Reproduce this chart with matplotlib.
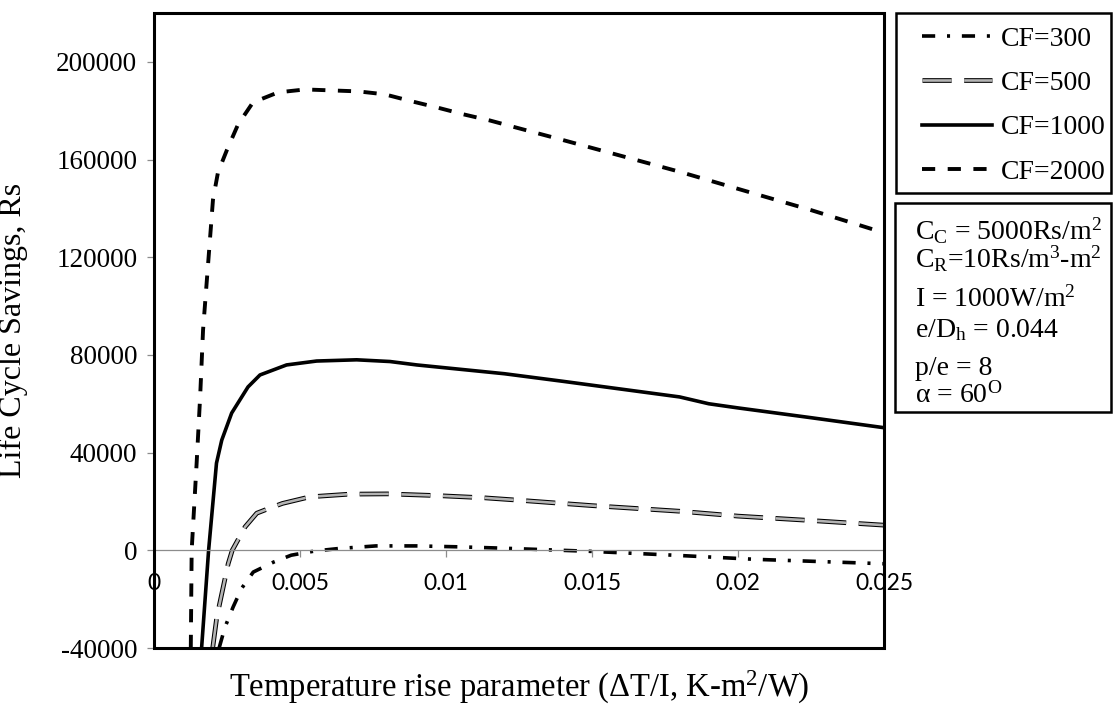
import matplotlib
matplotlib.use("Agg")
import matplotlib.pyplot as plt
import matplotlib.patheffects as pe
from matplotlib.patches import Rectangle

plt.rcParams['font.family'] = ['Liberation Serif', 'DejaVu Serif']
plt.rcParams['mathtext.fontset'] = 'custom'
plt.rcParams['mathtext.rm'] = 'Liberation Serif'
plt.rcParams['mathtext.it'] = 'Liberation Serif:italic'
plt.rcParams['lines.scale_dashes'] = False

# ---------------- data ----------------
x300 = [0.00223, 0.00243, 0.00271, 0.0030, 0.0034, 0.0041, 0.0047, 0.0055, 0.0063,
        0.0076, 0.0090, 0.0105, 0.0116, 0.0121, 0.0149, 0.0178, 0.0206, 0.025]
y300 = [-40000, -31500, -23200, -15600, -8900, -4800, -2000, -300, 700,
        1800, 1800, 1400, 1000, 800, -400, -2000, -3700, -5500]

x500 = [0.00201, 0.00215, 0.00254, 0.00268, 0.00312, 0.00352, 0.00397, 0.0044, 0.00534,
        0.0067, 0.0080, 0.0097, 0.0113, 0.0125, 0.015, 0.018, 0.020, 0.0225, 0.025]
y500 = [-40000, -27400, -5500, 0, 9600, 15200, 17300, 19200, 21900,
        23000, 23100, 22400, 21500, 20500, 18300, 16000, 14000, 12200, 10300]

x1000 = [0.00163, 0.00187, 0.00214, 0.00232, 0.00266, 0.00322, 0.00363, 0.00454, 0.00557,
         0.00694, 0.00808, 0.009, 0.010, 0.012, 0.014, 0.016, 0.018, 0.019, 0.020, 0.0225, 0.025]
y1000 = [-40000, 0, 35700, 45100, 56200, 66900, 71800, 75900, 77500,
         78000, 77300, 75900, 74700, 72300, 69200, 66000, 62800, 60000, 58300, 54300, 50200]

x2000 = [0.00126, 0.00129, 0.00146, 0.00158, 0.00168, 0.00202, 0.00219, 0.0025, 0.00288,
         0.00339, 0.00425, 0.00517, 0.0061, 0.0070, 0.0079, 0.00884, 0.0097, 0.0106, 0.0115,
         0.0124, 0.0140, 0.0160, 0.0180, 0.0200, 0.0225, 0.025]
y2000 = [-40000, 0, 35700, 62800, 90200, 143600, 154700, 164000, 174400,
         183400, 187500, 188700, 188300, 187900, 186700, 183800, 181300, 178500, 176000,
         173100, 168000, 161500, 155000, 148000, 139300, 130000]

labels = ['CF=300', 'CF=500', 'CF=1000', 'CF=2000']
xticks = [0, 0.005, 0.01, 0.015, 0.02, 0.025]
xticklabels = ['0', '0.005', '0.01', '0.015', '0.02', '0.025']
yticks = [-40000, 0, 40000, 80000, 120000, 160000, 200000]
yticklabels = ['-40000', '0', '40000', '80000', '120000', '160000', '200000']
info_lines = [r'C$_\mathrm{C}$ = 5000Rs/m$^2$',
              r'C$_\mathrm{R}$=10Rs/m$^3$-m$^2$',
              r'I = 1000W/m$^2$',
              r'e/D$_\mathrm{h}$ = 0.044',
              r'p/e = 8',
              r'α = 60$^\mathrm{O}$']

# ---------------- figure ----------------
W, H = 1115, 704
fig = plt.figure(figsize=(W / 100, H / 100), dpi=100)
ax = fig.add_axes([154 / W, 1 - 648 / H, (884 - 154) / W, (648 - 13) / H])

l300, = ax.plot(x300, y300, color='black', lw=2.6, dashes=(9.5, 8.5, 2.2, 8.5),
                solid_capstyle='butt', dash_capstyle='butt')
l500, = ax.plot(x500, y500, color='#b4b4b4', lw=1.9, dashes=(21, 9),
                dash_capstyle='butt',
                path_effects=[pe.Stroke(linewidth=3.4, foreground='black'), pe.Normal()])
l1000, = ax.plot(x1000, y1000, color='black', lw=2.6)
l2000, = ax.plot(x2000, y2000, color='black', lw=2.8, dashes=(9.5, 9),
                 dash_capstyle='butt')

ax.set_xlim(0, 0.025)
ax.set_ylim(-40000, 220000)

# x axis crosses at y = 0 (Excel style)
ax.spines['bottom'].set_position(('data', 0))
ax.spines['bottom'].set_color('#8c8c8c')
ax.spines['bottom'].set_linewidth(0.9)
for s in ['top', 'right', 'left']:
    ax.spines[s].set_color('black')
    ax.spines[s].set_linewidth(1.8)
ax.add_patch(Rectangle((0, 0), 1, 1, transform=ax.transAxes, fill=False,
                       ec='black', lw=2.2, clip_on=False, zorder=5))

ax.set_xticks(xticks)
ax.set_xticklabels(xticklabels, family=['Lato', 'DejaVu Sans'], fontsize=16.5)
ax.set_yticks(yticks)
ax.set_yticklabels(yticklabels, fontsize=19.5)
ax.tick_params(axis='x', direction='out', length=5, width=0.9, color='#8c8c8c', pad=11)
ax.tick_params(axis='y', direction='out', length=5, width=0.9, color='#8c8c8c', pad=7)

ax.set_ylabel('Life Cycle Savings, Rs', fontsize=23)
ax.yaxis.set_label_coords(-126 / (884 - 154), 0.5)
fig.text(519 / W, 1 - 687 / H, 'Temperature rise parameter (ΔT/I, K-m$^2$/W)',
         fontsize=23.5, ha='center', va='center')

# legend (frame drawn separately)
leg = fig.legend([l300, l500, l1000, l2000], labels,
                 loc='upper left', bbox_to_anchor=(911 / W, 1 - 15 / H),
                 fontsize=20, frameon=False, handlelength=2.52,
                 handletextpad=0.29, labelspacing=0.68, borderpad=0.41,
                 borderaxespad=0)
fig.patches.append(Rectangle((896 / W, 1 - 193 / H), (1111 - 896) / W, (193 - 13) / H,
                             transform=fig.transFigure, fill=False, ec='black', lw=1.8))

# info box
fig.patches.append(Rectangle((895 / W, 1 - 412 / H), (1111 - 895) / W, (412 - 203) / H,
                             transform=fig.transFigure, fill=False, ec='black', lw=1.8))
baselines = [240, 268, 307, 337, 375, 403]
for txt, yb in zip(info_lines, baselines):
    fig.text(915 / W, 1 - yb / H, txt, fontsize=20, ha='left', va='baseline')

fig.savefig('out.png', dpi=100)
